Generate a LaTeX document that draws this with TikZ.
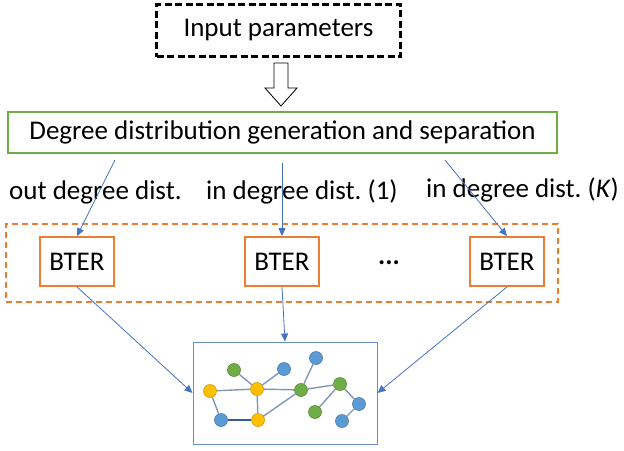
\documentclass[tikz,border=0pt]{standalone}
\usepackage{fontspec}
\setmainfont{Carlito}
\usetikzlibrary{arrows.meta}
\frenchspacing
\definecolor{orangeC}{HTML}{ED7D31}
\definecolor{greenC}{HTML}{70AD47}
\definecolor{blueC}{HTML}{4472C4}
\definecolor{lblue}{HTML}{5B9BD5}
\definecolor{yellowC}{HTML}{FFC000}
\definecolor{edgeC}{HTML}{8096B8}
\tikzset{
  txt/.style={font=\fontsize{27}{31}\selectfont, inner sep=0pt},
  btbox/.style={draw=orangeC, line width=1.8pt, minimum width=74pt, minimum height=49pt, txt},
  flow/.style={draw=blueC, line width=0.8pt, -{Triangle[length=8pt,width=7pt]}},
  gnode/.style={circle, minimum size=13pt, inner sep=0pt, line width=0.6pt},
  gy/.style={gnode, fill=yellowC, draw=yellowC!80!black},
  gg/.style={gnode, fill=greenC, draw=greenC!80!black},
  gb/.style={gnode, fill=lblue, draw=lblue!80!black},
  gedge/.style={draw=edgeC, line width=1.4pt},
}
\begin{document}
\begin{tikzpicture}[x=1pt, y=-1pt]
\useasboundingbox (0,0) rectangle (624,450);

% input box
\node[draw=black, line width=2.2pt, dash pattern=on 7pt off 3.5pt,
      minimum width=244pt, minimum height=52pt, txt] (inp) at (278.5,30.5) {Input parameters};

% hollow arrow
\draw[line width=0.8pt, fill=white]
  (274,63) -- (288,63) -- (288,88) -- (297,88) -- (281,106) -- (265,88) -- (274,88) -- cycle;

% generation box
\node[draw=greenC, line width=1.6pt, minimum width=549pt, minimum height=41pt, txt]
  (gen) at (282.5,132.5) {Degree distribution generation and separation};

% labels
\node[txt, anchor=base west] (l1) at (9,199) {out degree dist.};
\node[txt, anchor=base west] (l2) at (206,199) {in degree dist. (1)};
\node[txt, anchor=base west] (l3) at (426,197) {in degree dist. (\textit{K})};

% BTER group
\node[draw=orangeC, line width=1.2pt, dash pattern=on 6pt off 4pt,
      minimum width=552pt, minimum height=78pt, inner sep=0pt] (grp) at (282,263) {};
\node[btbox] (b1) at (77,261.5) {BTER};
\node[btbox] (b2) at (282,261.5) {BTER};
\node[btbox] (b3) at (507,261.5) {BTER};
\node[txt] (dots) at (389,263) {\textbf{...}};

% split arrows
\coordinate (s1) at (115,160);
\coordinate (s2) at (282,163);
\coordinate (s3) at (445,160);
\draw[flow] (s1) -- (b1.north);
\draw[flow] (s2) -- (b2.north);
\draw[flow] (s3) -- (b3.north);

% graph box
\node[draw=blueC!80!white, line width=1pt, minimum width=184pt, minimum height=102pt, inner sep=0pt]
  (gbox) at (285,393) {};
\draw[flow] (b1.south) -- (gbox.west);
\draw[flow] (b2.south) -- (gbox.north);
\draw[flow] (b3.south) -- (gbox.east);

% small network
\node[gg] (g1) at (234,370) {};
\node[gb] (n1) at (284,369) {};
\node[gb] (n2) at (316,358) {};
\node[gy] (y1) at (210,391) {};
\node[gy] (y2) at (257,389) {};
\node[gg] (g2) at (301,390) {};
\node[gg] (g3) at (340,384) {};
\node[gb] (n3) at (359,404) {};
\node[gg] (g4) at (315,412) {};
\node[gb] (n4) at (342,421) {};
\node[gb] (n5) at (221,420) {};
\node[gy] (y3) at (258,420) {};
\draw[gedge] (g1) -- (y2);
\draw[gedge] (n1) -- (y2);
\draw[gedge] (y1) -- (y2);
\draw[gedge] (y2) -- (g2);
\draw[gedge] (y2) -- (y3);
\draw[gedge] (y1) -- (n5);
\draw[gedge, draw=blueC!80!black] (n5) -- (y3);
\draw[gedge] (y3) -- (g2);
\draw[gedge] (g2) -- (n2);
\draw[gedge] (g2) -- (g3);
\draw[gedge] (g3) -- (g4);
\draw[gedge] (g3) -- (n3);
\draw[gedge] (n3) -- (n4);
\end{tikzpicture}
\end{document}
